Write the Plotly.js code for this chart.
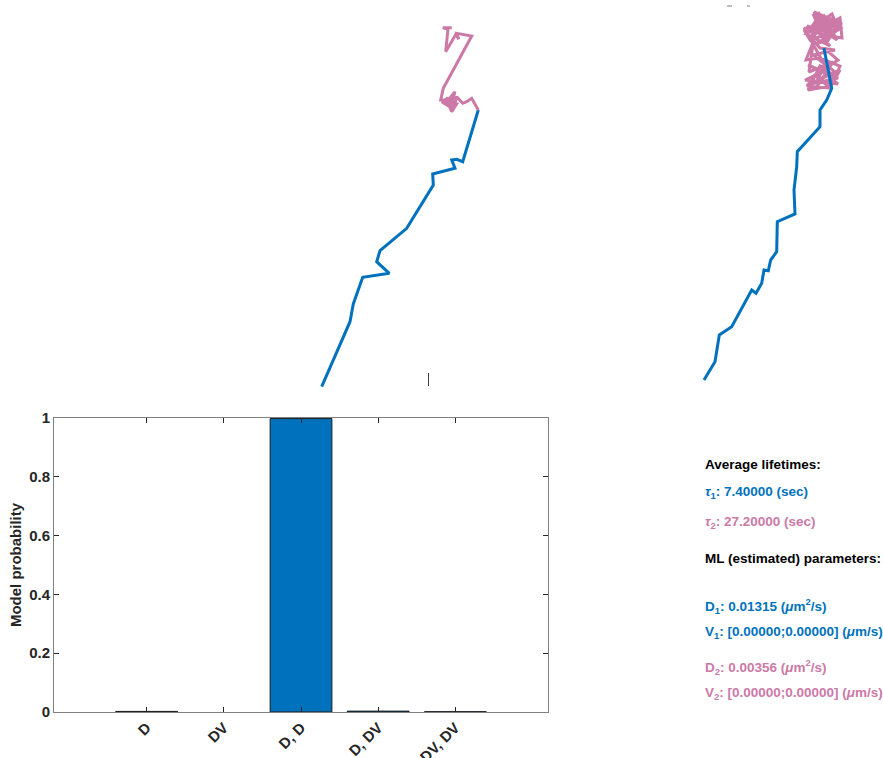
<!DOCTYPE html>
<html><head><meta charset="utf-8">
<script src="https://cdn.plot.ly/plotly-3.0.1.min.js"></script>
<style>html,body{margin:0;padding:0;background:#fff}#c{width:883px;height:758px}</style>
</head><body><div id="c"></div>
<script>
// Bar chart data
const models = ['D', 'DV', 'D, D', 'D, DV', 'DV, DV'];
const modelPos = [1, 2, 3, 4, 5];
const modelProb = [0.002, 0, 0.998, 0.003, 0.001];
const yTicks = [0, 0.2, 0.4, 0.6, 0.8, 1];
const yTickText = ['0', '0.2', '0.4', '0.6', '0.8', '1'];

// Track 1 (left panel), state 1 (blue) then state 2 (pink)
const t1s1X = [21.7, 50, 53.3, 62.7, 89.3, 76.7, 80, 106.7, 133.3, 132.7, 155, 151.7, 156.7, 162.7, 178.3];
const t1s1Y = [386.7, 321.7, 304, 277.3, 273.3, 261.7, 250.7, 228.3, 185, 174, 168.3, 160, 159.3, 161.7, 110];
const t1s2X = [178.3, 171.7, 166.7, 162.7, 156.7, 153.3, 148.3, 155, 150.7, 141.7, 156.7, 151.7, 146, 154, 140.7, 143.3, 171.7, 156.7, 158.7, 156, 145.7, 148, 142.7, 151.7];
const t1s2Y = [110, 98.3, 101.7, 103.3, 96.7, 110, 100, 91.7, 107.3, 101.7, 104, 111.7, 98.3, 100, 100, 88.3, 36, 33.3, 39.3, 34, 51.7, 29, 27.7, 27.7];

// Track 2 (right panel)
const t2s1X = [24, 35, 39.3, 51.7, 71.7, 76, 81.7, 84, 88.3, 90.7, 96.7, 97.3, 115, 114, 116.7, 117.3, 140, 140, 146.7, 151.7, 144];
const t2s1Y = [380, 361.7, 335, 326.7, 290, 293.3, 283.3, 270, 270.7, 260, 251.7, 221.7, 214, 190, 166.7, 151.7, 126.7, 110, 100, 88.3, 48.3];
const t2s2X = [144, 158, 135, 150, 127, 140, 128, 155, 160, 140, 126, 132, 148, 158, 152, 143, 138, 150, 128, 135, 147, 160, 162, 145, 130, 124, 140, 155, 133, 150, 125, 142, 158, 146, 136, 153, 129,
               137, 156, 131, 149, 161, 139, 127, 154, 133, 146, 159, 141, 129, 152, 136, 157, 144, 126, 150, 138, 162, 134, 148, 124, 143, 155, 131, 158, 140, 128, 151, 160, 137, 146];
const t2s2Y = [48, 60, 75, 88, 86, 70, 65, 78, 66, 58, 60, 45, 40, 28, 14, 20, 12, 30, 32, 22, 25, 18, 38, 35, 40, 30, 48, 50, 55, 68, 80, 82, 84, 74, 88, 62, 72,
               16, 24, 36, 20, 28, 42, 26, 34, 14, 44, 22, 30, 38, 18, 26, 40, 16, 34, 46, 32, 24, 12, 36, 28, 62, 72, 84, 78, 66, 90, 86, 70, 80, 64];

const blue = '#0072BD', pink = '#CC79A7';
const FONT = 'Liberation Sans, Arial, Helvetica, sans-serif';

const traces = [
  {type: 'bar', x: modelPos, y: modelProb, width: 0.8, xaxis: 'x', yaxis: 'y',
   marker: {color: blue, line: {color: '#1a1a1a', width: modelProb.map(v => v > 0 ? 1 : 0)}}, hoverinfo: 'none'},
  {type: 'scatter', mode: 'lines', x: t1s1X, y: t1s1Y, xaxis: 'x2', yaxis: 'y2', line: {color: blue, width: 3}},
  {type: 'scatter', mode: 'lines', x: t1s2X, y: t1s2Y, xaxis: 'x2', yaxis: 'y2', line: {color: pink, width: 3}},
  {type: 'scatter', mode: 'lines', x: t2s2X, y: t2s2Y, xaxis: 'x3', yaxis: 'y3', line: {color: pink, width: 3}},
  {type: 'scatter', mode: 'lines', x: t2s1X, y: t2s1Y, xaxis: 'x3', yaxis: 'y3', line: {color: blue, width: 3}}
];

const W = 883, H = 758;
const px = v => v / W, py = v => (H - v) / H;
const hidden = {visible: false, fixedrange: true};

const annText = [
  ['<b>Average lifetimes:</b>', 464, '#000'],
  ['<b><i>τ</i><sub>1</sub>: 7.40000 (sec)</b>', 492, blue],
  ['<b><i>τ</i><sub>2</sub>: 27.20000 (sec)</b>', 522, pink],
  ['<b>ML (estimated) parameters:</b>', 558, '#000'],
  ['<b>D<sub>1</sub>: 0.01315 (<i>μ</i>m<sup>2</sup>/s)</b>', 606, blue],
  ['<b>V<sub>1</sub>: [0.00000;0.00000] (<i>μ</i>m/s)</b>', 632, blue],
  ['<b>D<sub>2</sub>: 0.00356 (<i>μ</i>m<sup>2</sup>/s)</b>', 667, pink],
  ['<b>V<sub>2</sub>: [0.00000;0.00000] (<i>μ</i>m/s)</b>', 693, pink]
];

const tickFont = {family: FONT, size: 15, color: '#262626', weight: 'bold'};

const layout = {
  width: W, height: H, margin: {l: 0, r: 0, t: 0, b: 0},
  paper_bgcolor: '#fff', plot_bgcolor: 'rgba(0,0,0,0)', showlegend: false,
  font: {family: FONT, size: 13, color: '#262626'},
  xaxis: {domain: [px(54), px(548)], range: [-0.2, 6.2], tickvals: modelPos, ticktext: models,
          tickangle: -45, ticks: 'inside', ticklen: 5, tickcolor: '#262626', mirror: 'ticks',
          showline: true, linecolor: '#808080', linewidth: 1, showgrid: false, zeroline: false,
          tickfont: tickFont, fixedrange: true},
  yaxis: {domain: [py(712), py(418)], range: [0, 1], tickvals: yTicks, ticktext: yTickText,
          ticks: 'inside', ticklen: 5, tickcolor: '#262626', mirror: 'ticks',
          showline: true, linecolor: '#808080', linewidth: 1, showgrid: false, zeroline: false,
          tickfont: tickFont,
          title: {text: '<b>Model probability</b>', font: {family: FONT, size: 15, color: '#262626'}, standoff: 3},
          fixedrange: true},
  xaxis2: Object.assign({domain: [px(300), px(500)], range: [0, 200], anchor: 'y2'}, hidden),
  yaxis2: Object.assign({domain: [py(390), 1], range: [390, 0], anchor: 'x2'}, hidden),
  xaxis3: Object.assign({domain: [px(680), px(860)], range: [0, 180], anchor: 'y3'}, hidden),
  yaxis3: Object.assign({domain: [py(390), 1], range: [390, 0], anchor: 'x3'}, hidden),
  annotations: annText.map(a => ({text: a[0], x: px(703), y: py(a[1]), xref: 'paper', yref: 'paper',
    xanchor: 'left', yanchor: 'middle', showarrow: false, align: 'left',
    font: {family: FONT, size: 13.5, color: a[2]}})),
  shapes: [
    {type: 'line', xref: 'paper', yref: 'paper', x0: px(428.5), x1: px(428.5), y0: py(386), y1: py(373), line: {color: '#404040', width: 1}},
    {type: 'line', xref: 'paper', yref: 'paper', x0: px(727), x1: px(732), y0: py(6), y1: py(6), line: {color: '#808080', width: 1}},
    {type: 'line', xref: 'paper', yref: 'paper', x0: px(747), x1: px(750), y0: py(6), y1: py(6), line: {color: '#808080', width: 1}}
  ]
};

Plotly.newPlot('c', traces, layout, {staticPlot: true, displayModeBar: false});
</script>
</body></html>
